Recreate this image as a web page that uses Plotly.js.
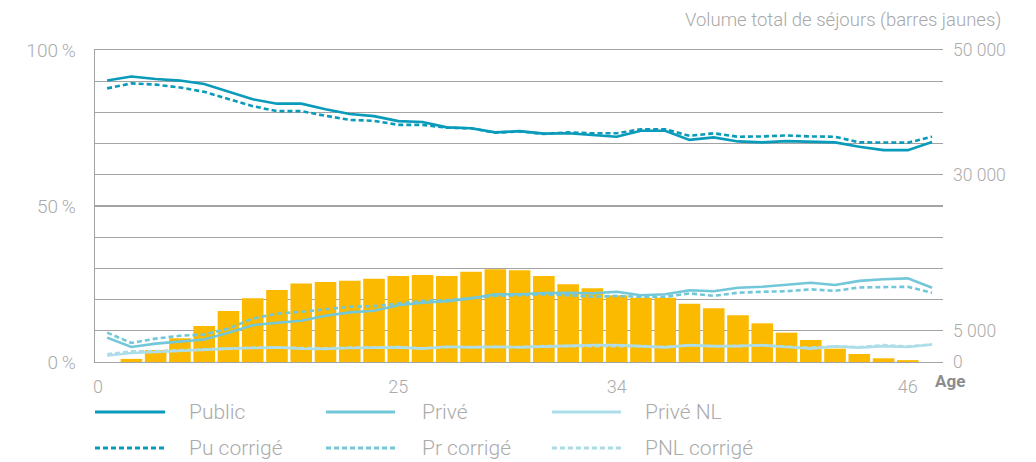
<!DOCTYPE html>
<html>
<head>
<meta charset="utf-8">
<script src="https://cdn.plot.ly/plotly-3.0.1.min.js"></script>
<style>
  html, body { margin: 0; padding: 0; background: #ffffff; }
  #chart { width: 1036px; height: 462px; }
</style>
</head>
<body>
<div id="chart"></div>
<script>
// ---- Data ----
const agesLine = [13,14,15,16,17,18,19,20,21,22,23,24,25,26,27,28,29,30,31,32,33,34,35,36,37,38,39,40,41,42,43,44,45,46,47];
const agesBar  = [14,15,16,17,18,19,20,21,22,23,24,25,26,27,28,29,30,31,32,33,34,35,36,37,38,39,40,41,42,43,44,45,46];

const volume = [500,1920,3800,5770,8170,10200,11540,12600,12820,13030,13350,13780,13940,13780,14470,14850,14690,13780,12450,11810,10700,10300,10300,9350,8600,7480,6200,4700,3530,2140,1280,590,300];

const publicPct = [90.2,91.5,90.7,90.2,89.1,86.6,84.2,82.8,82.8,81.0,79.5,78.8,77.2,76.9,75.2,74.9,73.6,74.0,73.2,73.3,72.7,72.2,74.1,74.1,71.2,72.0,70.7,70.4,70.8,70.5,70.4,69.0,67.9,67.9,70.5];
const puCorrige = [87.7,89.3,88.9,88.0,86.6,84.3,82.0,80.4,80.4,78.9,77.6,77.3,76.0,76.0,75.1,74.9,73.5,73.9,73.1,73.6,73.3,73.3,74.6,74.6,72.5,73.3,72.2,72.3,72.6,72.3,72.2,70.4,70.3,70.3,72.2];
const privePct  = [7.8,4.8,5.9,6.6,7.2,9.4,11.8,12.6,13.2,14.8,15.9,16.4,18.2,19.0,19.5,20.4,21.7,21.7,22.1,22.2,22.0,22.5,21.4,21.7,23.0,22.7,23.8,24.1,24.7,25.4,24.7,26.0,26.5,26.8,23.8];
const prCorrige = [9.4,6.1,7.5,8.4,8.8,10.7,13.9,15.5,16.1,16.9,17.7,17.9,18.8,19.6,19.8,20.4,21.2,21.4,21.7,21.4,20.9,21.2,20.9,20.9,22.0,21.2,22.2,22.5,22.7,23.3,22.8,23.9,23.9,24.1,22.2];
const priveNL   = [2.1,2.9,3.2,3.6,3.8,4.3,4.5,4.7,4.3,4.2,4.5,4.5,4.7,4.3,4.9,4.7,4.9,4.7,5.0,5.1,5.4,5.4,5.1,4.7,5.4,5.1,5.1,5.4,4.8,4.3,5.0,4.6,5.1,4.8,5.6];
const pnlCorrige= [2.5,3.4,3.5,3.8,4.0,4.4,4.6,4.6,4.4,4.4,4.6,4.6,4.8,4.4,4.8,4.8,4.8,4.8,5.1,5.1,5.3,5.3,5.1,4.8,5.3,5.0,5.2,5.3,4.9,4.6,5.0,4.8,5.4,5.0,5.6];

const xTickVals = [12.62, 25, 34, 46];
const xTickText = ['0', '25', '34', '46'];
const pctTickVals = [0, 50, 100];
const pctTickText = ['0\u2009%', '50\u2009%', '100\u2009%'];
const volTickVals = [0,5000,10000,15000,20000,25000,30000,35000,40000,45000,50000];
const volTickText = ['0','5 000','','','','','30 000','','','','50 000'];

const seriesNames = ['Public','Privé','Privé NL','Pu corrigé','Pr corrigé','PNL corrigé'];
const colPublic = '#0a9aba', colPrive = '#72c7d8', colNL = '#acdde8';
const gridCol = '#a3a3a3', tickCol = '#ababab';
const FONT = 'Roboto, "Open Sans", sans-serif';

// ---- Traces ----
const traces = [
  { type: 'bar', x: agesBar, y: volume, yaxis: 'y', marker: {color: '#fbb900', line: {width: 0}},
    hoverinfo: 'x+y', showlegend: false, name: 'Volume' },
  { type: 'scatter', mode: 'lines', x: agesLine, y: pnlCorrige, yaxis: 'y2', name: seriesNames[5],
    line: {color: colNL, width: 2.6, dash: '5px,3px'}, showlegend: false },
  { type: 'scatter', mode: 'lines', x: agesLine, y: priveNL, yaxis: 'y2', name: seriesNames[2],
    line: {color: colNL, width: 2.6}, showlegend: false },
  { type: 'scatter', mode: 'lines', x: agesLine, y: prCorrige, yaxis: 'y2', name: seriesNames[4],
    line: {color: colPrive, width: 2.6, dash: '5px,3px'}, showlegend: false },
  { type: 'scatter', mode: 'lines', x: agesLine, y: privePct, yaxis: 'y2', name: seriesNames[1],
    line: {color: colPrive, width: 2.6}, showlegend: false },
  { type: 'scatter', mode: 'lines', x: agesLine, y: puCorrige, yaxis: 'y2', name: seriesNames[3],
    line: {color: colPublic, width: 2.6, dash: '5px,3px'}, showlegend: false },
  { type: 'scatter', mode: 'lines', x: agesLine, y: publicPct, yaxis: 'y2', name: seriesNames[0],
    line: {color: colPublic, width: 2.6}, showlegend: false }
];

// ---- Manual legend (long line samples like the reference) ----
const L = 95, R = 943, T = 50, B = 362;
const W = R - L, H = B - T;
const px = v => (v - L) / W;
const py = v => (B - v) / H;
const legendCols = [{x0: 95, x1: 165, tx: 187}, {x0: 326, x1: 395, tx: 420}, {x0: 552, x1: 621, tx: 643}];
const legendRows = [412, 448];
const legendColors = [colPublic, colPrive, colNL];
const shapes = [];
const annotations = [];
legendRows.forEach((ry, r) => {
  legendCols.forEach((c, i) => {
    shapes.push({type: 'line', xref: 'paper', yref: 'paper', x0: px(c.x0), x1: px(c.x1), y0: py(ry), y1: py(ry),
      line: {color: legendColors[i], width: 3, dash: r === 0 ? 'solid' : '5px,3px'}});
    annotations.push({xref: 'paper', yref: 'paper', x: px(c.tx), y: py(ry), xanchor: 'left', yanchor: 'middle',
      text: seriesNames[r * 3 + i], showarrow: false,
      font: {family: FONT, size: 21, color: '#ababab', weight: 300}});
  });
});
annotations.push({xref: 'paper', yref: 'paper', x: px(1003), y: py(20), xanchor: 'right', yanchor: 'middle',
  text: 'Volume total de séjours (barres jaunes)', showarrow: false,
  font: {family: FONT, size: 18.5, color: '#a8a8a8', weight: 300}});
annotations.push({xref: 'paper', yref: 'paper', x: px(950), y: py(381), xanchor: 'center', yanchor: 'middle',
  text: '<b>Age</b>', showarrow: false, font: {family: FONT, size: 17, color: '#8c8c8c'}});

const layout = {
  width: 1036, height: 462,
  margin: {l: L, r: 1036 - R, t: T, b: 462 - B, pad: 0},
  paper_bgcolor: '#ffffff', plot_bgcolor: '#ffffff',
  showlegend: false,
  bargap: 0.11,
  font: {family: FONT, color: tickCol, size: 17, weight: 300},
  xaxis: {
    range: [12.5, 47.45], tickmode: 'array', tickvals: xTickVals, ticktext: xTickText,
    showgrid: false, zeroline: false, showline: true, mirror: true, linecolor: gridCol, linewidth: 1.3,
    ticks: '', ticklabelstandoff: 8, tickfont: {family: FONT, size: 18, color: tickCol, weight: 300}
  },
  yaxis: {
    side: 'right', range: [0, 50000], tickmode: 'array', tickvals: volTickVals, ticktext: volTickText,
    showgrid: true, gridcolor: gridCol, gridwidth: 1.3, zeroline: false, showline: false,
    ticks: '', ticklabelstandoff: 9, tickfont: {family: FONT, size: 17.5, color: tickCol, weight: 300}
  },
  yaxis2: {
    overlaying: 'y', side: 'left', range: [0, 100], tickmode: 'array', tickvals: pctTickVals, ticktext: pctTickText,
    showgrid: false, zeroline: false, showline: true, linecolor: gridCol, linewidth: 1.3,
    ticks: '', ticklabelstandoff: 14, tickfont: {family: FONT, size: 19, color: tickCol, weight: 300}
  },
  shapes: shapes,
  annotations: annotations
};

Plotly.newPlot('chart', traces, layout, {displayModeBar: false, staticPlot: true});
</script>
</body>
</html>
